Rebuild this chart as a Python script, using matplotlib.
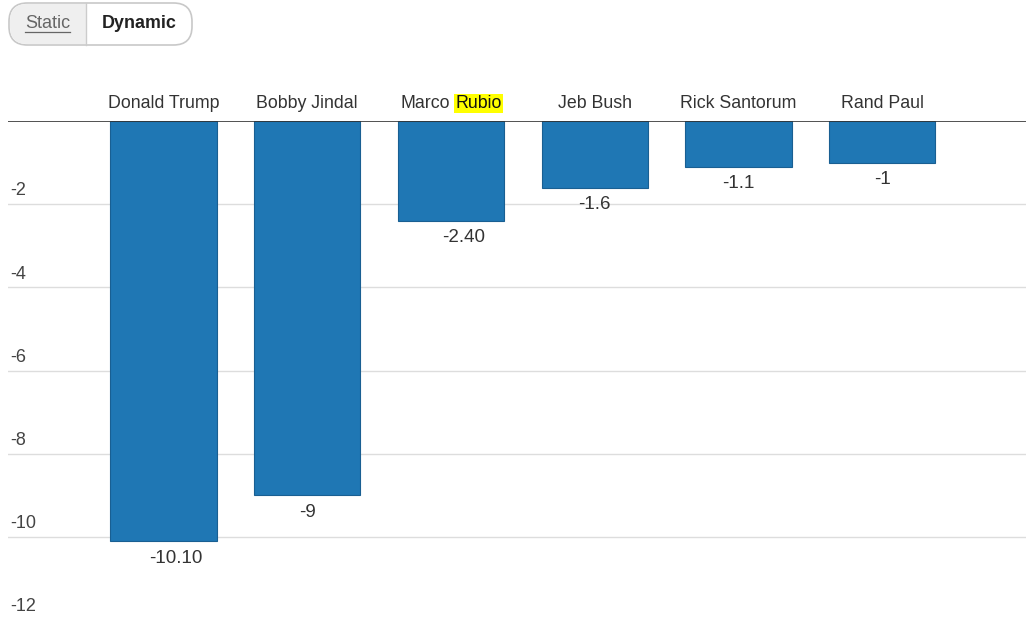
import matplotlib
matplotlib.use("Agg")
import matplotlib.pyplot as plt
from matplotlib.patches import FancyBboxPatch, Rectangle
import numpy as np

plt.rcParams['font.family'] = ['Liberation Sans', 'DejaVu Sans']

categories = ["Donald Trump", "Bobby Jindal", "Marco Rubio", "Jeb Bush", "Rick Santorum", "Rand Paul"]
values = [-10.1, -9, -2.4, -1.6, -1.1, -1]
value_labels = ["-10.10", "-9", "-2.40", "-1.6", "-1.1", "-1"]
y_ticks = [-2, -4, -6, -8, -10, -12]

W, H = 1026, 619
fig = plt.figure(figsize=(W / 100, H / 100), dpi=100)
fig.patch.set_facecolor("white")

# axes from x=8..1026, y=121..619 px
ax = fig.add_axes([8 / W, 0, (W - 8) / W, (H - 121) / H])
ax.set_xlim(-1.082, 6.0)
ax.set_ylim(-11.97, 0)
for s in ax.spines.values():
    s.set_visible(False)
ax.set_xticks([])
ax.set_yticks([])

x = np.arange(len(categories))
ax.bar(x, values, width=0.738, color="#1f77b4", edgecolor="#195f92", linewidth=0.8, zorder=3)

# gridlines and tick labels
for t in y_ticks:
    ax.axhline(t, color="#dddddd", linewidth=1, zorder=1)
    ax.annotate(str(t), xy=(0, t), xycoords=("axes fraction", "data"),
                xytext=(1.5, 3.5), textcoords="offset points", ha="left", va="bottom",
                fontsize=13, color="#444444", annotation_clip=False)
ax.axhline(0, color="#333333", linewidth=1.2, zorder=4)

# value labels below bars
dx = {"-10.10": 9, "-2.40": 9}
for xi, v, lab in zip(x, values, value_labels):
    ax.annotate(lab, xy=(xi, v), xytext=(dx.get(lab, 0), -6), textcoords="offset points",
                ha="center", va="top", fontsize=13.5, color="#333333")

# category labels above axis
for xi, c in zip(x, categories):
    if c == "Marco Rubio":
        first, last = c.split(" ")
        ax.annotate(first, xy=(xi, 0), xytext=(-0.7, 6.5), textcoords="offset points",
                    ha="right", va="bottom", fontsize=12.8, color="#333333", annotation_clip=False)
        ax.annotate(last, xy=(xi, 0), xytext=(3.0, 6.5), textcoords="offset points",
                    ha="left", va="bottom", fontsize=12.8, color="#111111", annotation_clip=False,
                    bbox=dict(boxstyle="square,pad=0.06", facecolor="#ffff00", edgecolor="none"))
    else:
        ax.annotate(c, xy=(xi, 0), xytext=(0, 6.5), textcoords="offset points",
                    ha="center", va="bottom", fontsize=12.8, color="#333333", annotation_clip=False)

# Static / Dynamic toggle button
def fx(px):
    return px / W

def fy(py):
    return 1 - py / H

btn = FancyBboxPatch((fx(9), fy(45)), fx(192) - fx(9), fy(3) - fy(45),
                     boxstyle="round,pad=0,rounding_size=0.018",
                     transform=fig.transFigure, facecolor="white", edgecolor="#c8c8c8",
                     linewidth=1.2, mutation_aspect=W / H, zorder=5)
fig.patches.append(btn)
left = FancyBboxPatch((fx(10), fy(44)), fx(86) - fx(10), fy(4) - fy(44),
                      boxstyle="round,pad=0,rounding_size=0.017",
                      transform=fig.transFigure, facecolor="#efefef", edgecolor="none",
                      mutation_aspect=W / H, zorder=6)
fig.patches.append(left)
fig.patches.append(Rectangle((fx(60), fy(44)), fx(86) - fx(60), fy(4) - fy(44),
                             transform=fig.transFigure, facecolor="#efefef", edgecolor="none", zorder=6))
fig.add_artist(plt.Line2D([fx(86), fx(86)], [fy(45), fy(3)], transform=fig.transFigure,
                          color="#cccccc", linewidth=1, zorder=7))
fig.text(fx(47.5), fy(23), "Static", ha="center", va="center", fontsize=13, color="#666666", zorder=8)
fig.add_artist(plt.Line2D([fx(25), fx(70)], [fy(32), fy(32)], transform=fig.transFigure,
                          color="#666666", linewidth=0.9, zorder=8))
fig.text(fx(139), fy(23), "Dynamic", ha="center", va="center", fontsize=12.9, color="#222222",
         fontweight="bold", zorder=8)

fig.savefig("out.png", dpi=100, facecolor="white")
